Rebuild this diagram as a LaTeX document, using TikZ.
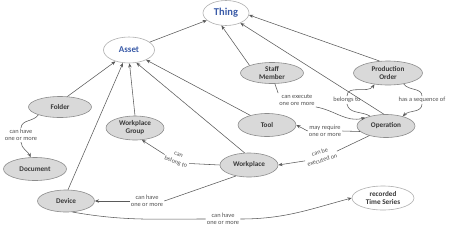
\documentclass[tikz,border=0pt]{standalone}
\usepackage{fontspec}
\setmainfont{Carlito}
\usetikzlibrary{shapes.geometric,arrows.meta}
\definecolor{nodeblue}{HTML}{3A5BA8}
\definecolor{nodetext}{HTML}{383838}
\definecolor{gfill}{HTML}{D9D9D9}
\definecolor{gline}{HTML}{8C8C8C}
\definecolor{eline}{HTML}{5A5A5A}
\definecolor{ltext}{HTML}{505050}
\tikzset{
  x=1pt,y=-1pt,
  gnode/.style={ellipse,draw=gline,fill=gfill,line width=0.6pt,inner sep=0pt,align=center,
     text=nodetext,font=\fontsize{7.2}{8}\selectfont\bfseries},
  wnode/.style={ellipse,draw=gline!70,fill=white,line width=0.6pt,inner sep=0pt,align=center,
     text=nodetext,font=\fontsize{7.2}{8}\selectfont\bfseries},
  bnode/.style={wnode,text=nodeblue},
  lbl/.style={align=center,inner sep=1pt,text=ltext,font=\fontsize{6.4}{7.4}\selectfont},
  rlbl/.style={lbl,font=\fontsize{6.2}{8.4}\selectfont},
  edge/.style={draw=eline,line width=0.55pt},
  arr/.style={edge,-{Stealth[length=4.2pt,width=3.4pt]}},
}
\begin{document}
\begin{tikzpicture}
\useasboundingbox (0,0) rectangle (450,231);
% nodes
\node[bnode,minimum width=46,minimum height=25,font=\fontsize{10.5}{12}\selectfont\bfseries] (thing) at (226,13) {Thing};
\node[bnode,minimum width=51,minimum height=26,font=\fontsize{9}{11}\selectfont\bfseries] (asset) at (129,50) {Asset};
\node[gnode,minimum width=63,minimum height=21] (staff) at (272,73) {Staff\\Member};
\node[gnode,minimum width=69,minimum height=24] (prod) at (388,73) {Production\\Order};
\node[gnode,minimum width=63,minimum height=21] (folder) at (60,107) {Folder};
\node[gnode,minimum width=58,minimum height=24] (wpg) at (135,128) {Workplace\\Group};
\node[gnode,minimum width=63,minimum height=23] (doc) at (35,169) {Document};
\node[gnode,minimum width=58,minimum height=23] (tool) at (267,125) {Tool};
\node[gnode,minimum width=58,minimum height=23] (op) at (386,126) {Operation};
\node[gnode,minimum width=58,minimum height=24] (wp) at (249,165) {Workplace};
\node[gnode,minimum width=57,minimum height=22] (dev) at (66,201) {Device};
\node[wnode,minimum width=62,minimum height=24] (ts) at (383,198) {recorded\\Time Series};
% labels
\node[lbl] (lf) at (21,135) {can have\\one or more};
\node[lbl] (lse) at (297,100) {can execute\\one ore more};
\node[lbl] (lbt) at (347,100) {belongs to};
\node[lbl] (lhs) at (422,100) {has a sequence of};
\node[lbl] (lmr) at (325,131) {may require\\one or more};
\node[rlbl,rotate=17] (lce) at (321,156) {can be\\executed on};
\node[rlbl,rotate=-20] (lcb) at (177,159) {can\\belong to};
\node[lbl] (lwd) at (147,201) {can have\\one or more};
\node[lbl] (ldt) at (223,219) {can have\\one or more};
% is-a edges
\draw[arr] (asset) -- (thing);
\draw[arr] (staff.north west) -- (thing.250);
\draw[arr] (prod.125) -- (thing.-5);
\draw[arr] (op.100) -- (thing.-35);
\draw[arr] (folder.55) -- (asset.220);
\draw[arr] (dev.80) -- (asset.245);
\draw[arr] (wpg.90) -- (asset.272);
\draw[arr] (wp.110) -- (asset.300);
\draw[arr] (tool.150) -- (asset.330);
% relations
\draw[edge] (folder.200) to[out=235,in=85] (lf.north);
\draw[arr] (lf.south) to[out=275,in=115] (doc.110);
\draw[edge] (staff.285) -- (lse.north west);
\draw[arr] (lse.south east) to[out=-10,in=195] (op.158);
\draw[edge] (op.148) to[out=150,in=-80] (lbt.south);
\draw[arr] (lbt.north) to[out=90,in=235] (prod.220);
\draw[edge] (prod.-35) to[out=-55,in=90] (lhs.north);
\draw[arr] (lhs.south) to[out=-90,in=45] (op.30);
\draw[edge] (op.192) -- (lmr.east);
\draw[arr] (lmr.west) -- (tool.east);
\draw[edge] (op.210) -- (lce.east);
\draw[arr] (lce.west) -- (wp.east);
\draw[edge] (wp.west) -- (lcb.east);
\draw[arr] (lcb.west) -- (wpg.-60);
\draw[edge] (wp.220) -- (lwd.east);
\draw[arr] (lwd.west) -- (dev.east);
\draw[edge] (dev.-60) to[out=-10,in=180] (ldt.west);
\draw[arr] (ldt.east) to[out=0,in=195] (ts.west);
\end{tikzpicture}
\end{document}
